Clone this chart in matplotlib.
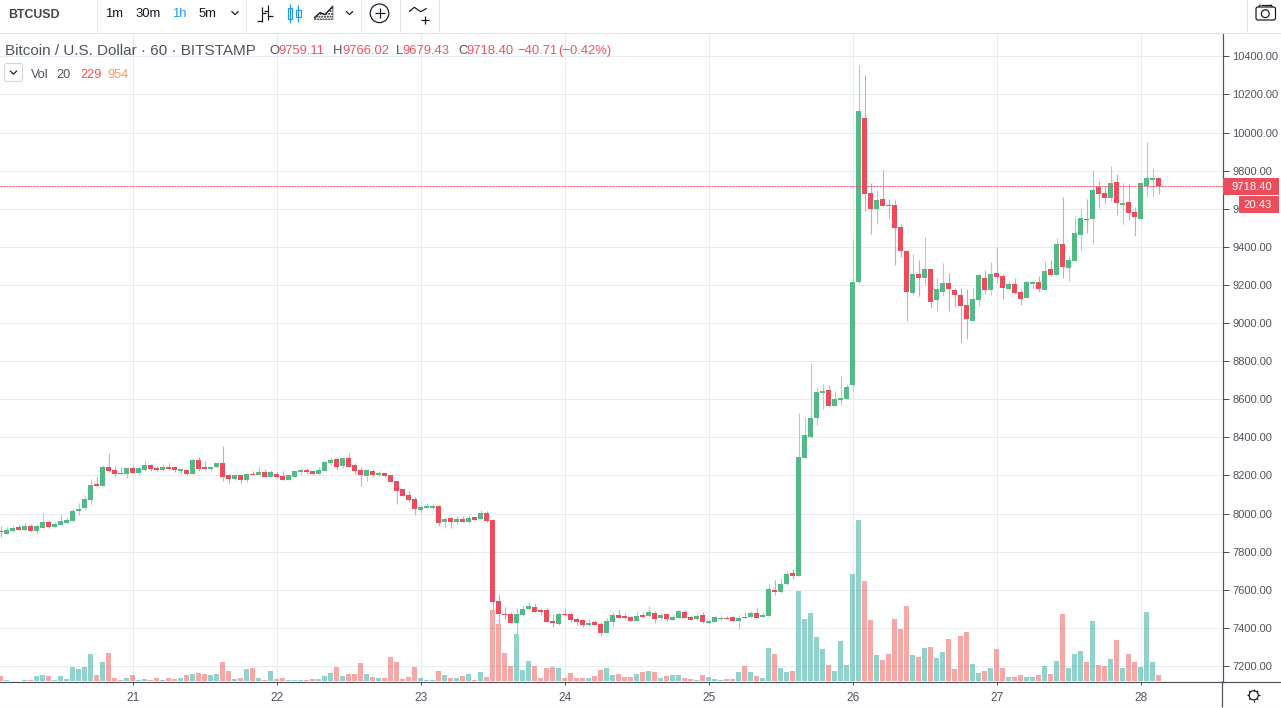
import matplotlib
matplotlib.use("Agg")
import matplotlib.pyplot as plt
from matplotlib.patches import Rectangle, Circle, Polygon, FancyBboxPatch

# ---------------------------------------------------------------- data
opens = [7910,7893,7909,7930,7914,7935,7909,7925,7956,7930,
7940,7951,7961,8014,8029,8071,8155,8145,8245,8229,
8213,8208,8239,8213,8229,8255,8239,8229,8245,8245,
8224,8229,8208,8281,8245,8234,8245,8266,8203,8182,
8203,8176,8208,8203,8218,8192,8208,8197,8176,8192,
8218,8229,8224,8208,8224,8266,8287,8250,8292,8255,
8229,8197,8224,8203,8213,8203,8171,8129,8098,8077,
8019,8029,8029,8040,7956,7977,7956,7972,7956,7982,
7972,8003,7966,7541,7473,7473,7426,7468,7499,7510,
7494,7494,7436,7420,7473,7473,7447,7441,7415,7431,
7420,7373,7431,7468,7462,7457,7436,7468,7462,7478,
7452,7473,7441,7452,7483,7457,7447,7468,7426,7431,
7447,7452,7457,7436,7457,7457,7478,7457,7462,7599,
7588,7630,7688,7672,8292,8402,8502,8633,8649,8565,
8596,8602,8675,9216,10077,9683,9599,9652,9620,9620,
9505,9379,9158,9258,9237,9284,9121,9163,9211,9174,
9148,9095,9011,9121,9237,9174,9263,9247,9179,9205,
9163,9132,9205,9216,9174,9284,9253,9415,9289,9326,
9463,9547,9547,9715,9683,9657,9741,9620,9636,9583,
9547,9720,9751,9759.11]
highs = [7935,7928,7940,7940,7951,7945,7940,8001,7966,7956,
7998,7982,8029,8056,8092,8182,8192,8255,8318,8250,
8245,8239,8255,8239,8276,8260,8250,8260,8266,8250,
8239,8234,8292,8297,8276,8250,8266,8355,8208,8203,
8203,8213,8224,8250,8234,8229,8218,8224,8208,8224,
8234,8239,8229,8245,8276,8297,8297,8292,8318,8266,
8245,8229,8234,8224,8218,8203,8171,8129,8119,8087,
8045,8056,8050,8045,7982,7982,7987,7987,7993,7982,
8019,8014,7972,7578,7510,7483,7504,7515,7536,7531,
7504,7504,7473,7483,7504,7483,7457,7447,7447,7441,
7431,7452,7483,7494,7478,7462,7483,7483,7515,7489,
7478,7478,7468,7494,7494,7468,7473,7483,7447,7462,
7468,7462,7462,7468,7483,7489,7504,7483,7630,7651,
7662,7699,7709,8528,8507,8785,8665,8680,8675,8644,
8722,8680,9442,10355,10303,9736,9699,9804,9652,9646,
9520,9384,9363,9331,9452,9284,9237,9316,9263,9184,
9184,9179,9190,9258,9279,9321,9400,9258,9221,9237,
9179,9221,9226,9247,9326,9331,9447,9662,9352,9562,
9599,9652,9804,9746,9720,9825,9783,9736,9730,9610,
9736,9951,9814,9766.02]
lows = [7879,7891,7905,7914,7910,7909,7893,7925,7925,7928,
7940,7951,7961,7994,8019,8050,8145,8145,8218,8197,
8208,8187,8213,8203,8224,8224,8224,8224,8229,8218,
8208,8203,8208,8224,8229,8224,8239,8171,8161,8176,
8161,8166,8203,8203,8192,8192,8187,8176,8176,8192,
8203,8208,8203,8208,8224,8255,8229,8239,8245,8208,
8145,8171,8192,8197,8192,8166,8050,8092,8061,7993,
8003,8029,8024,7935,7925,7925,7945,7956,7951,7966,
7972,7956,7494,7420,7447,7426,7294,7462,7489,7483,
7468,7431,7405,7415,7468,7431,7415,7405,7410,7415,
7357,7373,7405,7452,7447,7436,7436,7452,7457,7426,
7441,7436,7441,7452,7452,7441,7441,7426,7426,7431,
7436,7447,7436,7394,7452,7457,7452,7457,7462,7573,
7583,7625,7657,7672,8292,8397,8465,8549,8565,8565,
8570,8602,8644,9211,9589,9468,9520,9615,9552,9305,
9347,9011,9148,9142,9200,9079,9064,9142,9064,9085,
8896,8917,9011,9090,9153,9148,9211,9127,9179,9153,
9095,9132,9179,9163,9174,9253,9253,9237,9221,9326,
9384,9473,9415,9604,9631,9641,9568,9520,9541,9457,
9547,9662,9667,9679.43]
closes = [7904,7914,7925,7914,7935,7909,7935,7956,7930,7945,
7961,7966,8014,8024,8077,8150,8145,8245,8224,8208,
8208,8239,8213,8239,8255,8234,8229,8245,8234,8229,
8234,8208,8281,8234,8234,8245,8266,8192,8182,8203,
8176,8208,8203,8218,8192,8218,8192,8176,8203,8224,
8229,8218,8208,8229,8271,8281,8245,8292,8245,8224,
8203,8229,8203,8213,8197,8166,8119,8092,8071,8024,
8035,8040,8040,7951,7972,7956,7972,7956,7977,7966,
8003,7961,7536,7473,7468,7426,7473,7499,7515,7483,
7483,7431,7426,7473,7468,7441,7431,7415,7426,7415,
7373,7436,7468,7452,7452,7436,7462,7457,7483,7447,
7468,7447,7457,7489,7452,7441,7462,7431,7436,7457,
7452,7447,7436,7452,7452,7478,7452,7468,7604,7588,
7630,7683,7672,8297,8413,8502,8638,8644,8565,8602,
8607,8665,9216,10114,9678,9599,9646,9615,9615,9500,
9379,9163,9258,9237,9284,9111,9179,9211,9179,9148,
9090,9022,9127,9253,9174,9258,9242,9184,9205,9158,
9127,9216,9216,9179,9274,9253,9415,9295,9331,9473,
9552,9541,9699,9678,9657,9736,9631,9631,9578,9557,
9736,9762,9762,9718.40]
volumes = [190,38,8,6,38,38,190,228,190,38,
190,76,532,456,532,1026,228,722,1064,114,
38,114,228,38,76,38,114,38,114,76,
114,228,266,304,266,228,266,722,380,76,
114,456,494,114,38,380,76,114,38,38,
38,38,76,76,190,304,532,190,266,266,
684,266,152,114,114,912,722,76,152,532,
114,38,38,380,228,114,114,190,266,38,
342,152,2698,2166,1064,570,1786,418,760,570,
114,494,532,494,114,304,114,114,114,190,
418,494,228,266,152,152,266,342,380,342,
114,190,228,228,114,76,38,228,152,76,
38,76,76,342,570,342,190,114,1254,1026,
494,342,380,3420,2356,2584,1672,1216,608,380,
1520,608,4066,6118,3800,2318,988,798,1026,2356,
1976,2850,988,912,1254,1292,874,1102,1596,456,
1710,1862,646,304,380,494,1216,494,152,152,
228,152,152,228,570,266,760,2546,494,1026,
1140,722,2280,608,570,836,1558,494,1026,722,
532,2622,722,229]
day_hours = [22, 46, 70, 94, 118, 142, 166, 190]
day_labels = ["21", "22", "23", "24", "25", "26", "27", "28"]
price_ticks = [7200 + 200 * k for k in range(17)]
last_price = 9718.40

hours = list(range(len(opens)))

# ---------------------------------------------------------------- style
UP, DOWN = "#53b987", "#eb4d5c"
UP_W, DOWN_W = "#9bd9ba", "#f799a5"
VOL_UP, VOL_DOWN = (38/255, 166/255, 154/255, .5), (239/255, 83/255, 80/255, .5)
GRID = "#e4ebf2"
AX = "#50535e"
TXT = "#50535e"
FONT = "Liberation Sans"
PX = 0.72
plt.rcParams["font.family"] = [FONT, "DejaVu Sans"]

W, H = 1281, 708
fig = plt.figure(figsize=(W / 100, H / 100), dpi=100, facecolor="white")
rect = [0, (H - 681.5) / H, 1222.5 / W, (681.5 - 33) / H]
XL = (-0.5 / 6, 1222 / 6)
YL = (7118.6, 10522.3)

# grid + axis labels (day lines sit just right of their bar)
ax = fig.add_axes(rect, zorder=0, facecolor="white")
ax.set_xlim(*XL)
ax.set_ylim(*YL)
ax.set_xticks([h + 0.1 for h in day_hours], day_labels)
ax.set_yticks(price_ticks, [f"{p:.2f}" for p in price_ticks])
ax.yaxis.tick_right()
ax.grid(True, color=GRID, lw=PX)
ax.set_axisbelow(True)
ax.tick_params(axis="y", length=4, width=PX, color=AX, labelcolor=TXT, labelsize=8.0, pad=3)
ax.tick_params(axis="x", length=2.5, width=PX, color=AX, labelcolor=TXT, labelsize=8.6, pad=5)
for s in ("top", "left"):
    ax.spines[s].set_visible(False)
for s in ("right", "bottom"):
    ax.spines[s].set_color(AX)
    ax.spines[s].set_linewidth(1.2 * PX)

# volume
axv = fig.add_axes(rect, zorder=1, sharex=ax)
axv.patch.set_visible(False)
axv.set_ylim(-19, 24624)
axv.axis("off")
up_flags = [c >= o for o, c in zip(opens, closes)]
axv.bar(hours, volumes, width=5 / 6,
        color=[VOL_UP if u else VOL_DOWN for u in up_flags], linewidth=0)

# candles
axc = fig.add_axes(rect, zorder=2, sharex=ax, sharey=ax)
axc.patch.set_visible(False)
axc.axis("off")
axc.vlines(hours, lows, highs, colors=[UP_W if u else DOWN_W for u in up_flags],
           lw=PX * 1.1, zorder=2)
axc.bar(hours, [abs(c - o) for o, c in zip(opens, closes)],
        bottom=[min(o, c) for o, c in zip(opens, closes)], width=5 / 6,
        color=[UP if u else DOWN for u in up_flags], linewidth=0, zorder=3)
axc.axhline(last_price, color=DOWN, lw=PX, ls=(0, (2, 1)), zorder=4)

# ---------------------------------------------------------------- overlay in pixels
ov = fig.add_axes([0, 0, 1, 1], zorder=5)
ov.patch.set_visible(False)
ov.set_xlim(0, W)
ov.set_ylim(H, 0)
ov.axis("off")
DK = "#131722"


def line(xs, ys, c=DK, lw=1.0, **kw):
    ov.plot(xs, ys, color=c, lw=lw * PX * 1.2, solid_capstyle="butt", **kw)


def text(x, y, s, c=TXT, size=13, **kw):
    ov.text(x, y, s, color=c, fontsize=size * PX, va="center", ha=kw.pop("ha", "left"), **kw)


def chevron(x, y, c=DK):
    line([x - 3.5, x, x + 3.5], [y - 1.8, y + 1.6, y - 1.8], c)


# toolbar
ov.add_patch(Rectangle((0, 0), W, 32.5, fc="white", ec="none"))
line([0, W], [32.5, 32.5], "#e0e3eb", 0.85)
for sx in (96.5, 245.5, 360.5, 399.5, 438.5, 1246.5):
    line([sx, sx], [0, 32], "#e0e3eb", 0.85)
text(8, 15, "BTCUSD", "#434651", 12.4, fontweight="bold")
text(105.5, 14, "1m", DK, 13)
text(135, 14, "30m", DK, 13)
text(172.5, 14, "1h", "#2196f3", 13)
text(199, 14, "5m", DK, 13)
chevron(235, 13)
chevron(349.5, 13)
# bars icon
line([262, 262], [7, 22]); line([257, 262], [20.5, 20.5]); line([262, 266], [13, 13])
line([268, 268], [5, 20]); line([263.5, 268], [11, 11]); line([268, 272.5], [15.5, 15.5])
# candles icon
BL = "#2196f3"
line([289.5, 289.5], [3.5, 23], BL)
ov.add_patch(Rectangle((287.5, 7.5), 4.5, 11.5, fc="white", ec=BL, lw=PX * 1.2))
line([298, 298], [5, 22], BL)
ov.add_patch(Rectangle((296, 9.5), 4.5, 7.5, fc="white", ec=BL, lw=PX * 1.2))
# area icon
ov.add_patch(Polygon([(314, 19.5), (320, 13), (325, 15), (333, 6.5), (333, 19.5)], fc="white",
                     ec=DK, lw=0.3, hatch="......"))
line([314, 320, 325, 333], [18, 12.5, 14.5, 6])
# add-symbol icon
ov.add_patch(Circle((379.5, 13.3), 9.3, fc="none", ec=DK, lw=PX * 1.2))
line([374.5, 384.5], [13.3, 13.3]); line([379.5, 379.5], [8.3, 18.3])
# indicators icon
line([409, 414.3, 420.7, 426.7], [11.7, 7.3, 11.7, 8.3])
line([421, 429], [19.5, 19.5]); line([425, 425], [15.5, 23.5])
# camera icon
ov.add_patch(FancyBboxPatch((1256, 7), 19.5, 13, boxstyle="round,pad=0,rounding_size=2",
                            fc="white", ec=DK, lw=PX * 1.2))
line([1260.5, 1270.5], [4.6, 4.6]); line([1260.5, 1258.5], [4.6, 7]); line([1270.5, 1272.5], [4.6, 7])
ov.add_patch(Circle((1265.3, 13.7), 3.9, fc="none", ec=DK, lw=PX * 1.2))

# legend rows
text(5, 50.8, "Bitcoin / U.S. Dollar · 60 · BITSTAMP", TXT, 15.25)
RED = "#ef5360"
for x, s, col in [(269.5, "O", TXT), (278, "9759.11", RED), (332.5, "H", TXT), (342, "9766.02", RED),
                  (395.5, "L", TXT), (402.5, "9679.43", RED), (458, "C", TXT), (466, "9718.40", RED),
                  (517, "−40.71", RED), (558, "(−0.42%)", RED)]:
    text(x, 51, s, col, 13)
ov.add_patch(FancyBboxPatch((4.5, 63.5), 18, 18, boxstyle="round,pad=0,rounding_size=2",
                            fc="white", ec="#d6d8e0", lw=PX * 1.2))
chevron(13.5, 72.5)
text(31, 74.5, "Vol", TXT, 12.8)
text(56, 74.5, "20", TXT, 12.8)
text(80, 74.5, "229", "#ef5350", 12.8)
text(107, 74.5, "954", "#ff9850", 12.8)

# price tags
ov.add_patch(Rectangle((1222.5, 178), 56.5, 17, fc=DOWN, ec="none"))
text(1231, 186.7, f"{last_price:.2f}", "white", 11.2)
ov.add_patch(Rectangle((1239, 196.3), 40, 16.5, fc=DOWN, ec="none"))
text(1243, 204.5, "20:43", "white", 11.2)

# lower right
line([1222.4, 1222.4], [681, 707], AX, 1.0)
line([0, W], [707.5, 707.5], "#e0e3eb", 0.85)
line([1222.4, W], [681.5, 681.5], AX, 1.0)
ov.add_patch(Circle((1253.7, 695.3), 4.6, fc="none", ec=DK, lw=PX * 1.2))
for dx, dy in [(0, 1), (0, -1), (1, 0), (-1, 0), (.7, .7), (-.7, .7), (.7, -.7), (-.7, -.7)]:
    line([1253.7 + 4.6 * dx, 1253.7 + 6.4 * dx], [695.3 + 4.6 * dy, 695.3 + 6.4 * dy])

fig.savefig("out.png", dpi=100)
